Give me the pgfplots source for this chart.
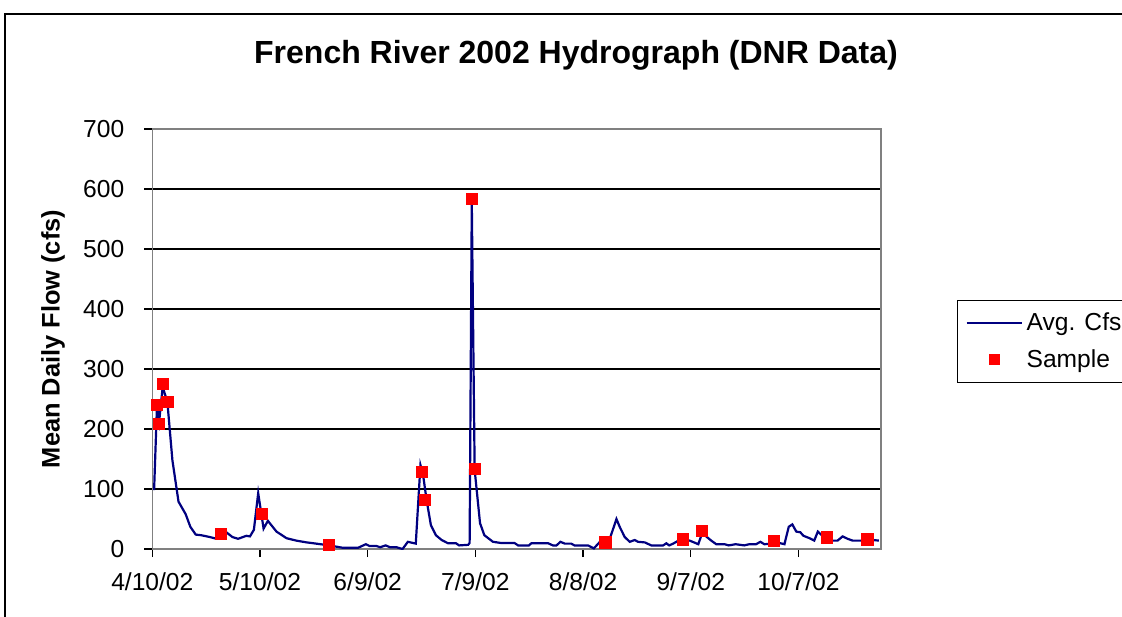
\documentclass[border=0pt]{standalone}
\usepackage{pgfplots}
\pgfplotsset{compat=1.18}
\usepackage{fontspec}
\setmainfont{Liberation Sans}
\definecolor{navyline}{RGB}{0,0,128}
\definecolor{markred}{RGB}{255,0,0}
\begin{document}
\begin{tikzpicture}
\path[use as bounding box] (0,0) rectangle (561pt,308pt);
\draw[line width=1pt] (2.25pt,-10pt) -- (2.25pt,301pt) -- (600pt,301pt);
\begin{axis}[
  at={(76.15pt,33.5pt)}, anchor=south west,
  scale only axis, width=364.35pt, height=210pt,
  xmin=0, xmax=203, ymin=0, ymax=700,
  xtick={0,30,...,180},
  xticklabels={4/10/02,5/10/02,6/9/02,7/9/02,8/8/02,9/7/02,10/7/02},
  ytick={0,100,...,700},
  ymajorgrids, grid style={black, line width=0.6pt},
  axis line style={draw=gray, line width=0.8pt},
  tick align=outside, major tick length=4pt,
  tick style={black, line width=0.6pt},
  xtick pos=bottom, ytick pos=left,
  tick label style={font=\fontsize{12.3}{14}\selectfont},
  xticklabel style={yshift=-4.5pt},
  yticklabel style={xshift=-6.5pt},
  /pgf/number format/assume math mode=true,
  title={French River 2002 Hydrograph (DNR Data)},
  every axis title/.style={at={(axis description cs:0.5815,1.176)}, anchor=center, font=\fontsize{16}{19}\selectfont\bfseries},
  ylabel={Mean Daily Flow (cfs)},
  ylabel style={at={(axis description cs:-0.1363,0.5)}, anchor=center, font=\fontsize{12.7}{15}\selectfont\bfseries},
  legend style={at={(axis description cs:1.1043,0.5929)}, anchor=north west, draw=black, thin,
    font=\fontsize{12.3}{14}\selectfont, row sep=4pt, inner xsep=4pt, inner ysep=4pt},
  legend cell align=left,
]
\addplot[navyline, line width=1.1pt, mark=none,
  legend image code/.code={\draw[navyline,line width=1.1pt] (0pt,0pt) -- (27.5pt,0pt);}]
  table {
x y
0.5 98
1.3 238
1.9 212
2.9 270
4.2 245
5.6 148
7.3 79
9.3 58
10.6 37
12.1 24
13.6 23
16.0 20
17.9 17
19.2 20
20.4 29
22.3 20
23.9 17
26.2 22
27.2 21
28.3 32
29.5 93
31.0 34
32.2 47
34.6 29
37.4 18
40.1 14
43.0 11
44.4 10
45.6 9
49.3 6
53.1 2
57.3 2
59.5 8
60.5 5
62.4 5
63.5 3
65.0 6
66.2 3
68.0 3
69.7 0
71.2 12
73.4 9
74.7 140
75.4 125
76.4 82
77.6 40
79.0 23
80.6 15
82.4 9.5
84.6 9.5
85.5 6
88.0 7
88.4 10
89.0 578
89.8 132
91.3 43
92.5 23
94.9 12
97.2 10
100.9 10
101.9 6
104.9 6
105.6 9.5
110.3 9.5
111.6 6
112.6 6
113.7 12
114.9 9
116.7 9
117.6 6
121.4 6
123.0 1
124.7 12
126.3 11
127.5 18
129.3 50
130.2 37
131.6 20
133.0 12
134.4 15
135.3 12
137.2 11
139.0 6
142.3 6
143.2 9.5
144.0 6
145.1 9
146.9 15
147.9 16
149.7 14
152.1 8
153.2 27
154.3 21
155.7 14
157.1 8
159.4 8
160.6 6
162.5 8
164.9 6
166.3 8
168.2 8
169.4 12
170.5 8
173.1 9
174.7 10
176.1 8
177.3 37
178.3 41
179.4 29
180.5 28
181.4 22
183.1 18
184.4 14
185.4 29
186.3 24
188.0 19.5
189.5 14
190.9 14
192.3 21
193.7 17
195.1 14
197.9 14
199.2 16
202.4 14
};
\addlegendentry{Avg. Cfs}
\addplot[only marks, mark=square*, mark size=2.8pt, mark options={draw=markred, fill=markred},
  legend image code/.code={\fill[markred] (11.25pt,-2.5pt) rectangle (16.25pt,2.5pt);}]
  coordinates {
(1.2,240) (1.9,209) (2.9,275) (4.2,245) (19.1,25) (30.5,58) (49.2,7)
(75.0,129) (75.9,82) (89.0,583) (89.8,134) (126.2,11) (147.8,16)
(153.2,30) (173.1,13) (188.0,19.5) (199.2,16)
};
\addlegendentry{Sample}
\end{axis}
\end{tikzpicture}
\end{document}
